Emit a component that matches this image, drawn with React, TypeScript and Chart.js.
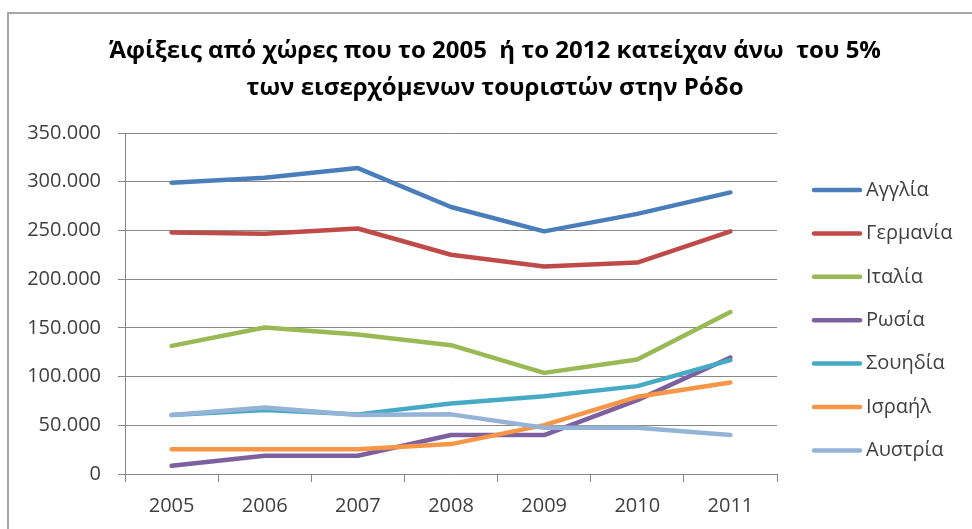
import React, { useEffect, useRef } from "react";
import { Chart, registerables } from "chart.js";

Chart.register(...registerables);

const TITLE_LINES = [
  "Άφίξεις από χώρες που το 2005  ή το 2012 κατείχαν άνω  του 5%",
  "των εισερχόμενων τουριστών στην Ρόδο",
];

const YEARS = ["2005", "2006", "2007", "2008", "2009", "2010", "2011"];

const SERIES_NAMES = ["Αγγλία", "Γερμανία", "Ιταλία", "Ρωσία", "Σουηδία", "Ισραήλ", "Αυστρία"];

const ANGLIA = [299000, 304000, 314000, 274000, 249000, 267000, 289000];
const GERMANIA = [248000, 246500, 252000, 225000, 213000, 217000, 249000];
const ITALIA = [131500, 150300, 143100, 132200, 103800, 117500, 166300];
const ROSIA = [8500, 18800, 18800, 40000, 40000, 75800, 119600];
const SOUIDIA = [60500, 65600, 61200, 72400, 79900, 90200, 116800];
const ISRAIL = [25300, 25300, 25300, 30700, 50200, 79200, 94000];
const AUSTRIA = [60500, 68300, 60500, 61200, 47400, 47400, 40000];

const SERIES_VALUES = [ANGLIA, GERMANIA, ITALIA, ROSIA, SOUIDIA, ISRAIL, AUSTRIA];
const SERIES_COLORS = ["#4A7EBB", "#BE4B48", "#98B954", "#7D60A0", "#46AAC5", "#F79646", "#95B3D7"];

const Y_MIN = 0;
const Y_MAX = 350000;
const Y_STEP = 50000;

const FONT = '"Open Sans", "DejaVu Sans", sans-serif';
const TEXT_COLOR = "#404040";
const GRID_COLOR = "#878787";

function formatThousands(v: number): string {
  return String(Math.round(v)).replace(/\B(?=(\d{3})+(?!\d))/g, ".");
}

const centerTitle = {
  id: "centerTitle",
  afterLayout(chart: any) {
    const t = chart.titleBlock;
    if (t) {
      t.left = 18;
      t.right = chart.width;
      t.width = chart.width - 18;
    }
  },
};

const sideLegend = {
  id: "sideLegend",
  afterDraw(chart: any) {
    const ctx = chart.ctx;
    ctx.save();
    const top = 190;
    const step = 43.4;
    chart.data.datasets.forEach((ds: any, i: number) => {
      const y = top + i * step;
      ctx.strokeStyle = ds.borderColor;
      ctx.lineWidth = 4.5;
      ctx.lineCap = "round";
      ctx.beginPath();
      ctx.moveTo(814, y);
      ctx.lineTo(860, y);
      ctx.stroke();
      ctx.fillStyle = TEXT_COLOR;
      ctx.font = `20px ${FONT}`;
      ctx.textBaseline = "middle";
      ctx.textAlign = "left";
      ctx.fillText(ds.label, 866, y);
    });
    ctx.restore();
  },
};

export default function App() {
  const canvasRef = useRef<HTMLCanvasElement | null>(null);

  useEffect(() => {
    const canvas = canvasRef.current;
    if (!canvas) return;
    const chart = new Chart(canvas, {
      type: "line",
      data: {
        labels: YEARS,
        datasets: SERIES_NAMES.map((name, i) => ({
          label: name,
          data: SERIES_VALUES[i],
          borderColor: SERIES_COLORS[i],
          backgroundColor: SERIES_COLORS[i],
          borderWidth: 4.5,
          pointRadius: 0,
          pointHoverRadius: 0,
          tension: 0,
          fill: false,
          borderJoinStyle: "round",
          borderCapStyle: "round",
          order: SERIES_NAMES.length - i,
        })),
      },
      options: {
        responsive: false,
        animation: false,
        devicePixelRatio: 1,
        layout: { padding: { top: 0, left: 25, right: 195, bottom: 0 } },
        plugins: {
          legend: { display: false },
          tooltip: { enabled: false },
          title: {
            display: true,
            text: TITLE_LINES,
            color: "#000000",
            font: { family: FONT, size: 24, weight: "bold", lineHeight: 37 / 24 },
            padding: { top: 33, bottom: 26 },
          },
        },
        scales: {
          x: {
            type: "category",
            offset: true,
            afterFit: (scale: any) => {
              scale.height = 55;
            },
            grid: {
              offset: true,
              drawOnChartArea: false,
              drawTicks: true,
              tickLength: 8,
              color: GRID_COLOR,
            },
            border: { display: true, color: GRID_COLOR, width: 1 },
            ticks: {
              color: TEXT_COLOR,
              font: { family: FONT, size: 20 },
              padding: 12,
              maxRotation: 0,
            },
          },
          y: {
            min: Y_MIN,
            max: Y_MAX,
            afterFit: (scale: any) => {
              scale.width = 100;
            },
            grid: {
              color: GRID_COLOR,
              lineWidth: 1,
              drawTicks: true,
              tickLength: 7,
            },
            border: { display: true, color: GRID_COLOR, width: 1 },
            ticks: {
              stepSize: Y_STEP,
              color: TEXT_COLOR,
              font: { family: FONT, size: 20 },
              padding: 17,
              callback: (v: any) => formatThousands(Number(v)),
            },
          },
        },
      },
      plugins: [centerTitle, sideLegend],
    } as any);
    return () => chart.destroy();
  }, []);

  return (
    <div
      style={{
        position: "fixed",
        left: 0,
        top: 0,
        width: 972,
        height: 529,
        overflow: "hidden",
        background: "#ffffff",
      }}
    >
      <div
        style={{
          position: "absolute",
          left: 7,
          top: 12,
          width: 1100,
          height: 700,
          border: "2px solid #A6A6A6",
          boxSizing: "border-box",
        }}
      />
      <canvas
        ref={canvasRef}
        width={972}
        height={529}
        style={{ position: "absolute", left: 0, top: 0, width: 972, height: 529 }}
      />
    </div>
  );
}
